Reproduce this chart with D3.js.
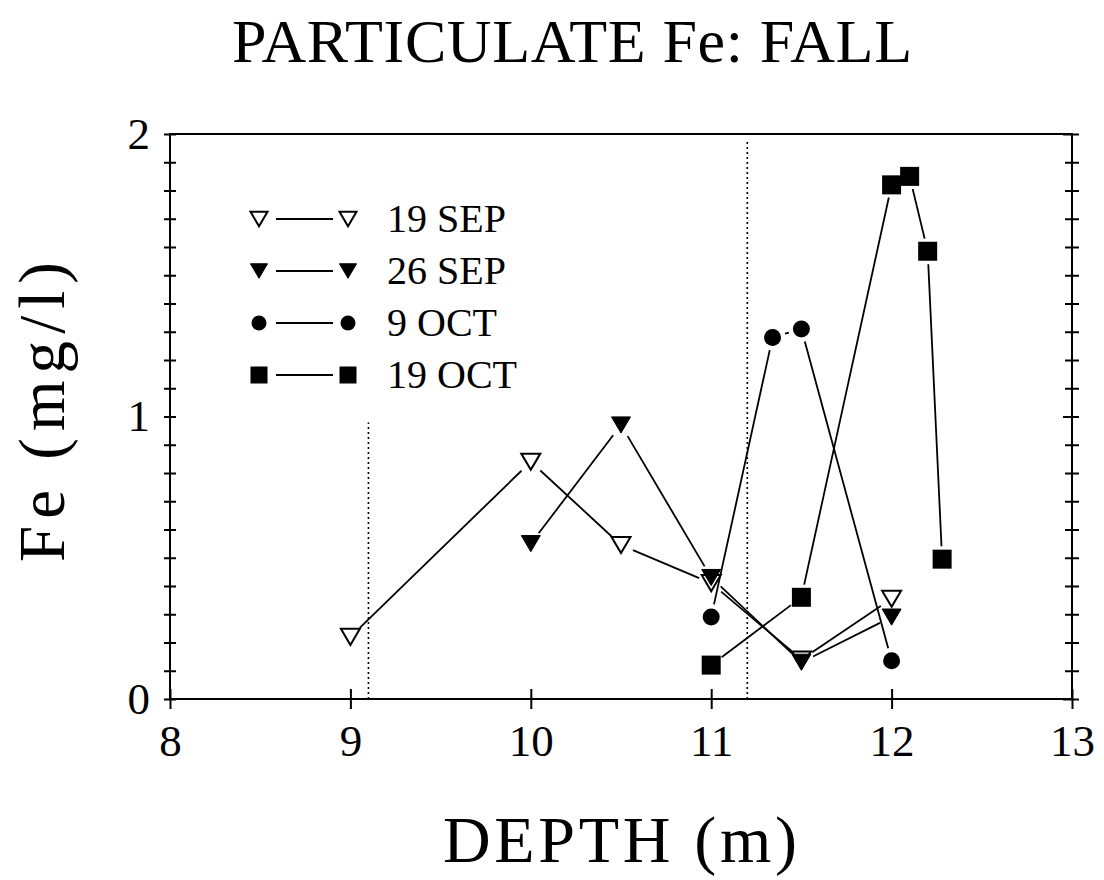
<!DOCTYPE html>
<html>
<head>
<meta charset="utf-8">
<script src="https://cdn.jsdelivr.net/npm/d3@7"></script>
<style>
  html, body { margin: 0; padding: 0; background: #fff; }
  svg { display: block; }
</style>
</head>
<body>
<svg id="chart" width="1104" height="880"></svg>
<script>
// Particulate iron profiles, fall sampling dates
const sep19Depth = [9, 10, 10.5, 11, 11.5, 12];
const sep19Fe    = [0.22, 0.84, 0.545, 0.41, 0.14, 0.355];

const sep26Depth = [10, 10.5, 11, 11.5, 12];
const sep26Fe    = [0.55, 0.97, 0.43, 0.13, 0.29];

const oct9Depth  = [11, 11.34, 11.5, 12];
const oct9Fe     = [0.29, 1.28, 1.31, 0.135];

const oct19Depth = [11, 11.5, 12, 12.1, 12.2, 12.28];
const oct19Fe    = [0.12, 0.36, 1.82, 1.85, 1.585, 0.495];

const seriesNames = ["19 SEP", "26 SEP", "9 OCT", "19 OCT"];
const xTickValues = [8, 9, 10, 11, 12, 13];
const yMajorTicks = [0, 1, 2];

// reference depths marked with dotted verticals: [depth, top value]
const markerLines = [[9.1, 1.0], [11.2, 2.0]];

const FONT = "'Liberation Serif', serif";
const svg = d3.select("#chart");
const plotLeft = 170, plotRight = 1072, plotTop = 134, plotBottom = 699;

const x = d3.scaleLinear().domain([8, 13]).range([plotLeft, plotRight]);
const y = d3.scaleLinear().domain([0, 2]).range([plotBottom, plotTop]);

const series = [
  { name: seriesNames[0], shape: "triOpen",  pts: sep19Depth.map((d, i) => [d, sep19Fe[i]]) },
  { name: seriesNames[1], shape: "triFill",  pts: sep26Depth.map((d, i) => [d, sep26Fe[i]]) },
  { name: seriesNames[2], shape: "circle",   pts: oct9Depth.map((d, i) => [d, oct9Fe[i]]) },
  { name: seriesNames[3], shape: "square",   pts: oct19Depth.map((d, i) => [d, oct19Fe[i]]) }
];

// ----- frame -----
svg.append("rect")
  .attr("x", plotLeft).attr("y", plotTop)
  .attr("width", plotRight - plotLeft).attr("height", plotBottom - plotTop)
  .attr("fill", "none").attr("stroke", "#000").attr("stroke-width", 2);

// ----- left axis: ticks every 0.1 crossing the spine, labels at integers -----
const yTickVals = d3.range(0, 21).map(i => i / 10);
const isMajor = d => yMajorTicks.some(m => Math.abs(m - d) < 1e-9);
const yAxis = d3.axisLeft(y)
  .tickValues(yTickVals)
  .tickSize(6)
  .tickPadding(14)
  .tickFormat(d => isMajor(d) ? d3.format("d")(d) : "");
const gy = svg.append("g").attr("transform", `translate(${plotLeft},0)`).call(yAxis);
gy.select(".domain").remove();
gy.selectAll(".tick line").attr("x1", -6).attr("x2", 6).attr("stroke-width", 2);
gy.selectAll(".tick text").style("font-family", FONT).style("font-size", "45px");

// ----- right axis: same minor ticks, no labels -----
const yAxisR = d3.axisRight(y).tickValues(yTickVals).tickSize(6).tickFormat("");
const gyr = svg.append("g").attr("transform", `translate(${plotRight},0)`).call(yAxisR);
gyr.select(".domain").remove();
gyr.selectAll(".tick line")
  .attr("x1", d => isMajor(d) ? -9 : -7).attr("x2", 7).attr("stroke-width", 2);

// ----- bottom axis -----
const xAxis = d3.axisBottom(x)
  .tickValues(xTickValues)
  .tickSize(10)
  .tickPadding(15)
  .tickFormat(d3.format("d"));
const gx = svg.append("g").attr("transform", `translate(0,${plotBottom})`).call(xAxis);
gx.select(".domain").remove();
gx.selectAll(".tick line").attr("y1", -10).attr("y2", 10).attr("stroke-width", 2);
gx.selectAll(".tick text").style("font-family", FONT).style("font-size", "45px");

// ----- dotted reference lines -----
svg.append("g").selectAll("line")
  .data(markerLines)
  .join("line")
  .attr("x1", d => x(d[0])).attr("x2", d => x(d[0]))
  .attr("y1", y(0)).attr("y2", d => y(d[1]) + 6)
  .attr("stroke", "#000").attr("stroke-width", 1.6)
  .attr("stroke-dasharray", "2,3");

// ----- connecting segments, stopped short of each marker -----
const gap = 13;
function segments(pts) {
  const out = [];
  for (let i = 0; i < pts.length - 1; i++) {
    const x0 = x(pts[i][0]), y0 = y(pts[i][1]);
    const x1 = x(pts[i + 1][0]), y1 = y(pts[i + 1][1]);
    const len = Math.hypot(x1 - x0, y1 - y0);
    if (len <= 2 * gap) continue;
    const ux = (x1 - x0) / len, uy = (y1 - y0) / len;
    out.push([x0 + ux * gap, y0 + uy * gap, x1 - ux * gap, y1 - uy * gap]);
  }
  return out;
}
const lineG = svg.append("g");
series.forEach(s => {
  lineG.append("g").selectAll("line")
    .data(segments(s.pts))
    .join("line")
    .attr("x1", d => d[0]).attr("y1", d => d[1])
    .attr("x2", d => d[2]).attr("y2", d => d[3])
    .attr("stroke", "#000").attr("stroke-width", 1.8);
});

// ----- marker drawing -----
function drawMarker(g, shape, cx, cy, size) {
  const h = size / 2;
  if (shape === "triOpen" || shape === "triFill") {
    const th = size * 0.85;
    const p = `M${cx - h},${cy - th / 2}L${cx + h},${cy - th / 2}L${cx},${cy + th / 2}Z`;
    g.append("path").attr("d", p)
      .attr("fill", shape === "triFill" ? "#000" : "#fff")
      .attr("stroke", "#000")
      .attr("stroke-width", shape === "triFill" ? 1 : 2)
      .attr("stroke-linejoin", "miter");
  } else if (shape === "circle") {
    g.append("circle").attr("cx", cx).attr("cy", cy).attr("r", h).attr("fill", "#000");
  } else {
    g.append("rect").attr("x", cx - h).attr("y", cy - h)
      .attr("width", size).attr("height", size).attr("fill", "#000");
  }
}

const markG = svg.append("g");
series.forEach(s => {
  s.pts.forEach(p => {
    const sz = s.shape === "circle" ? 17 : 19;
    drawMarker(markG, s.shape, x(p[0]), y(p[1]), sz);
  });
});

// ----- legend -----
const legendRows = [219, 271, 323, 375];
const legG = svg.append("g");
series.forEach((s, i) => {
  const ry = legendRows[i];
  legG.append("line")
    .attr("x1", 276).attr("x2", 333).attr("y1", ry).attr("y2", ry)
    .attr("stroke", "#000").attr("stroke-width", 1.8);
  const sz = s.shape === "circle" ? 15 : 17;
  drawMarker(legG, s.shape, 259, ry, sz);
  drawMarker(legG, s.shape, 348, ry, sz);
  legG.append("text")
    .attr("x", 387).attr("y", ry + 13)
    .style("font-family", FONT).style("font-size", "40px")
    .text(s.name);
});

// ----- titles -----
svg.append("text")
  .attr("x", 572).attr("y", 62)
  .attr("text-anchor", "middle")
  .style("font-family", FONT).style("font-size", "62px")
  .attr("textLength", 680).attr("lengthAdjust", "spacing")
  .text("PARTICULATE Fe: FALL");

svg.append("text")
  .attr("x", 620).attr("y", 862)
  .attr("text-anchor", "middle")
  .style("font-family", FONT).style("font-size", "66px")
  .attr("textLength", 354).attr("lengthAdjust", "spacing")
  .text("DEPTH (m)");

svg.append("text")
  .attr("transform", "translate(64,412) rotate(-90)")
  .attr("text-anchor", "middle")
  .style("font-family", FONT).style("font-size", "65px")
  .attr("textLength", 300).attr("lengthAdjust", "spacing")
  .text("Fe (mg/l)");
</script>
</body>
</html>
